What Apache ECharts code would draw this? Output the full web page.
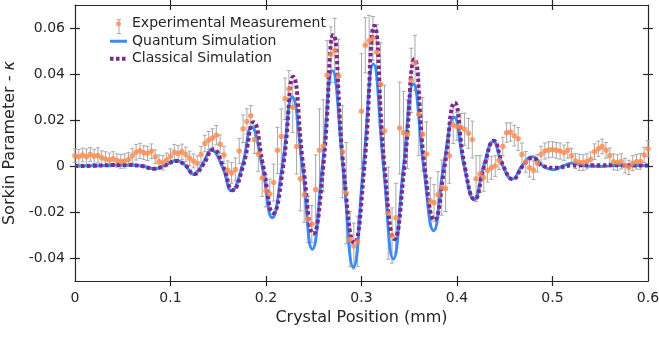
<!DOCTYPE html>
<html>
<head>
<meta charset="utf-8">
<script src="https://cdn.jsdelivr.net/npm/echarts@6.0.0/dist/echarts.min.js"></script>
<style>
  html, body { margin: 0; padding: 0; background: #fff; }
  #chart { width: 659px; height: 337px; }
</style>
</head>
<body>
<div id="chart"></div>
<script>
// experimental points (mm, kappa, half error bar)
const xExp = [
  0, 0.004, 0.008, 0.012, 0.016, 0.02, 0.024, 0.028, 0.032, 0.036,
  0.04, 0.044, 0.048, 0.052, 0.056, 0.06, 0.064, 0.068, 0.072, 0.076,
  0.08, 0.084, 0.088, 0.092, 0.096, 0.1, 0.104, 0.108, 0.112, 0.116,
  0.12, 0.124, 0.128, 0.132, 0.136, 0.14, 0.144, 0.148, 0.152, 0.156,
  0.16, 0.164, 0.168, 0.172, 0.176, 0.18, 0.184, 0.188, 0.192, 0.196,
  0.2, 0.204, 0.208, 0.212, 0.216, 0.22, 0.224, 0.228, 0.232, 0.236,
  0.24, 0.244, 0.248, 0.252, 0.256, 0.26, 0.264, 0.268, 0.272, 0.276,
  0.28, 0.284, 0.288, 0.292, 0.296, 0.3, 0.304, 0.308, 0.312, 0.316,
  0.32, 0.324, 0.328, 0.332, 0.336, 0.34, 0.344, 0.348, 0.352, 0.356,
  0.36, 0.364, 0.368, 0.372, 0.376, 0.38, 0.384, 0.388, 0.392, 0.396,
  0.4, 0.404, 0.408, 0.412, 0.416, 0.42, 0.424, 0.428, 0.432, 0.436,
  0.44, 0.444, 0.448, 0.452, 0.456, 0.46, 0.464, 0.468, 0.472, 0.476,
  0.48, 0.484, 0.488, 0.492, 0.496, 0.5, 0.504, 0.508, 0.512, 0.516,
  0.52, 0.524, 0.528, 0.532, 0.536, 0.54, 0.544, 0.548, 0.552, 0.556,
  0.56, 0.564, 0.568, 0.572, 0.576, 0.58, 0.584, 0.588, 0.592, 0.596,
  0.6
];
const yExp = [
  0.0045, 0.004, 0.0048, 0.004, 0.005, 0.0042, 0.0046, 0.0036, 0.003, 0.0026,
  0.0032, 0.0024, 0.002, 0.0022, 0.0028, 0.0045, 0.006, 0.0066, 0.0058, 0.0055,
  0.0064, 0.004, 0.0018, 0.0014, 0.0026, 0.0042, 0.006, 0.0054, 0.0062, 0.005,
  0.0034, 0.0022, 0.0012, 0.005, 0.0098, 0.0112, 0.0122, 0.0134, 0.0095, 0.0048,
  -0.0018, -0.003, -0.0015, 0.0065, 0.0162, 0.0194, 0.0218, 0.0115, 0.0052, -0.0052,
  -0.0108, -0.0122, -0.0072, 0.0068, 0.0128, 0.0292, 0.0335, 0.0255, 0.0085, -0.0055,
  -0.0125, -0.0232, -0.0252, -0.0102, 0.0068, 0.0088, 0.0395, 0.0485, 0.0502, 0.0392,
  0.0062, -0.0118, -0.0318, -0.0348, -0.0328, 0.0238, 0.0525, 0.0545, 0.0555, 0.0495,
  0.0355, 0.0152, -0.0205, -0.0302, -0.0225, 0.0165, 0.0145, 0.0138, 0.0372, 0.0448,
  0.0225, 0.0138, 0.0052, -0.0152, -0.016, -0.0125, -0.0094, -0.0098, 0.0045, 0.0178,
  0.0172, 0.0168, 0.016, 0.0142, 0.0115, -0.0055, -0.0035, -0.005, -0.002, -0.0008,
  0, 0.0025, 0.0085, 0.0145, 0.0148, 0.0132, 0.0118, 0.005, 0.0018, -0.0008,
  -0.0018, 0.0012, 0.005, 0.0065, 0.007, 0.0072, 0.0068, 0.0065, 0.0058, 0.0068,
  0.0045, 0.0022, 0.0016, 0.0015, 0.002, 0.0029, 0.0062, 0.0075, 0.0085, 0.0068,
  0.0045, 0.0018, 0.0015, 0.002, 0.0002, -0.0006, 0.0012, 0.0018, 0.002, 0.0048,
  0.0075
];
const errExp = [
  0.003, 0.0032, 0.003, 0.0034, 0.003, 0.0031, 0.0033, 0.003, 0.0032, 0.003,
  0.003, 0.0029, 0.003, 0.0031, 0.003, 0.0032, 0.0034, 0.0033, 0.003, 0.0031,
  0.0032, 0.003, 0.003, 0.0031, 0.003, 0.0032, 0.0034, 0.0035, 0.0033, 0.0032,
  0.0031, 0.003, 0.0032, 0.0035, 0.0036, 0.0038, 0.004, 0.0042, 0.004, 0.0038,
  0.004, 0.0045, 0.005, 0.0055, 0.006, 0.0055, 0.0045, 0.006, 0.0075, 0.008,
  0.007, 0.0065, 0.008, 0.01, 0.012, 0.009, 0.008, 0.011, 0.012, 0.014,
  0.012, 0.01, 0.008, 0.015, 0.018, 0.02, 0.015, 0.012, 0.014, 0.016,
  0.02, 0.022, 0.012, 0.01, 0.011, 0.025, 0.012, 0.011, 0.0095, 0.012,
  0.018, 0.02, 0.02, 0.012, 0.015, 0.02, 0.018, 0.015, 0.014, 0.012,
  0.018, 0.016, 0.014, 0.01, 0.008, 0.01, 0.012, 0.01, 0.012, 0.008,
  0.006, 0.006, 0.007, 0.0065, 0.008, 0.01, 0.008, 0.006, 0.005, 0.005,
  0.0045, 0.004, 0.004, 0.0042, 0.004, 0.0045, 0.005, 0.005, 0.0045, 0.004,
  0.004, 0.0038, 0.0036, 0.0035, 0.0035, 0.0034, 0.0034, 0.0035, 0.0033, 0.0034,
  0.0032, 0.0033, 0.0035, 0.0034, 0.0033, 0.0032, 0.0034, 0.0033, 0.0032, 0.0034,
  0.0033, 0.0035, 0.0034, 0.0033, 0.0032, 0.0031, 0.0033, 0.0032, 0.0034, 0.0033,
  0.0035
];

// simulation curves, read at their extrema and zero crossings
const xQuantum = [
  0, 0.02, 0.04, 0.055, 0.07, 0.083, 0.095, 0.106, 0.115, 0.124,
  0.133, 0.143, 0.154, 0.164, 0.175, 0.185, 0.196, 0.2065, 0.217, 0.2275,
  0.238, 0.2485, 0.259, 0.2695, 0.2805, 0.2915, 0.302, 0.3124, 0.323, 0.3333,
  0.344, 0.3543, 0.365, 0.3755, 0.386, 0.397, 0.4075, 0.418, 0.428, 0.438,
  0.448, 0.458, 0.468, 0.479, 0.49, 0.501, 0.511, 0.521, 0.535, 0.55,
  0.57, 0.6
];
const yQuantum = [
  0, 0.0001, 0.0004, 0.0004, 0, -0.0012, 0.0005, 0.0023, 0.0005, -0.0036,
  0.0005, 0.0068, 0, -0.0108, 0, 0.0168, 0, -0.0225, 0, 0.030,
  0, -0.0362, 0, 0.0414, 0, -0.0440, 0, 0.0443, 0, -0.0404,
  0, 0.0357, 0, -0.0281, 0, 0.0212, 0, -0.0146, 0, 0.0106,
  0, -0.0057, 0, 0.0040, 0, -0.0016, 0, 0.0012, 0, -0.0002,
  0.0003, 0.0002
];
const xClassical = [
  0, 0.02, 0.04, 0.055, 0.07, 0.083, 0.095, 0.106, 0.115, 0.125,
  0.134, 0.145, 0.155, 0.165, 0.176, 0.187, 0.197, 0.2075, 0.218, 0.2285,
  0.239, 0.2495, 0.26, 0.2705, 0.281, 0.2925, 0.303, 0.3135, 0.324, 0.3345,
  0.345, 0.3555, 0.366, 0.3765, 0.387, 0.3975, 0.408, 0.4185, 0.4285, 0.4385,
  0.4485, 0.4585, 0.469, 0.479, 0.49, 0.503, 0.52, 0.55, 0.6
];
const yClassical = [
  0, 0.0001, 0.0004, 0.0004, 0, -0.0012, 0.0005, 0.0022, 0.0005, -0.0035,
  0.0005, 0.0072, 0, -0.0105, 0, 0.019, 0, -0.0205, 0, 0.0388,
  0, -0.0295, 0, 0.0570, 0, -0.0335, 0, 0.0610, 0, -0.0318,
  0, 0.0465, 0, -0.0235, 0, 0.0275, 0, -0.0145, 0, 0.011,
  0, -0.0057, 0, 0.0035, 0, -0.0008, 0.0002, 0.0003, 0.0002
];

const xLabelTicks = [0.1, 0.2, 0.3, 0.4, 0.5];
const yTickValues = [-0.04, -0.02, 0, 0.02, 0.04, 0.06];

const ink = '#262626';
const font = 'DejaVu Sans';
const orange = '#fd8a4e';
const blue = '#3d8cf4';
const purple = '#7b2a8c';
const barGray = '#a8a8a8';

const errData = xExp.map((x, i) => [x, yExp[i], errExp[i]]);
const expData = xExp.map((x, i) => [x, yExp[i]]);
const quantumData = xQuantum.map((x, i) => [x, yQuantum[i]]);
const classicalData = xClassical.map((x, i) => [x, yClassical[i]]);

function xAx(position, inside, main) {
  return {
    type: 'value', min: 0, max: 0.6, interval: 0.1, position,
    axisLine: { show: main, onZero: false, lineStyle: { color: ink, width: 1.2 } },
    axisTick: { show: true, inside, length: 5, customValues: xLabelTicks, lineStyle: { color: ink, width: 1.2 } },
    axisLabel: { show: main && position === 'bottom', color: ink, fontSize: 14, fontFamily: font, margin: 10 },
    splitLine: { show: false }
  };
}
function yAx(position, inside, main) {
  return {
    type: 'value', min: -0.05, max: 0.07, interval: 0.01, position,
    axisLine: { show: main, onZero: false, lineStyle: { color: ink, width: 1.2 } },
    axisTick: { show: true, inside, length: 5, customValues: yTickValues, lineStyle: { color: ink, width: 1.2 } },
    axisLabel: { show: main && position === 'left', customValues: yTickValues, color: ink, fontSize: 14, fontFamily: font, margin: 10 },
    splitLine: { show: false }
  };
}

const xAxes = [xAx('bottom', false, true), xAx('bottom', true, false), xAx('top', false, true), xAx('top', true, false)];
Object.assign(xAxes[0], {
  name: 'Crystal Position (mm)', nameLocation: 'middle', nameGap: 28,
  nameTextStyle: { color: ink, fontSize: 16, fontFamily: font }
});
const yAxes = [yAx('left', false, true), yAx('left', true, false), yAx('right', false, true), yAx('right', true, false)];
Object.assign(yAxes[0], {
  name: 'Sorkin Parameter - {k|κ}', nameLocation: 'middle', nameGap: 51, nameRotate: 90,
  nameTextStyle: {
    color: ink, fontSize: 16, fontFamily: font,
    rich: { k: { fontStyle: 'italic', color: ink, fontSize: 16, fontFamily: font } }
  }
});

const chart = echarts.init(document.getElementById('chart'));
chart.setOption({
  animation: false,
  backgroundColor: '#fff',
  grid: { left: 75, right: 11, top: 5, bottom: 56, containLabel: false, outerBoundsMode: 'none' },
  legend: {
    orient: 'vertical', left: 108, top: 15, padding: 0, itemGap: 0,
    itemWidth: 17, itemHeight: 5,
    data: [
      { name: 'Experimental Measurement' },
      { name: 'Quantum Simulation', itemStyle: { opacity: 0 }, lineStyle: { width: 3 } },
      { name: 'Classical Simulation', itemStyle: { opacity: 0 }, lineStyle: { width: 4, type: [3.5, 2.5] } }
    ],
    textStyle: { color: ink, fontSize: 14, fontFamily: font, lineHeight: 17.5 }
  },
  graphic: [{
    type: 'group', left: 114.5, top: 17, z: 0,
    children: [
      { type: 'line', shape: { x1: 2, y1: 0, x2: 2, y2: 14 }, style: { stroke: barGray, lineWidth: 1 } },
      { type: 'line', shape: { x1: 0, y1: 0, x2: 4, y2: 0 }, style: { stroke: barGray, lineWidth: 1 } },
      { type: 'line', shape: { x1: 0, y1: 14, x2: 4, y2: 14 }, style: { stroke: barGray, lineWidth: 1 } }
    ]
  }],
  xAxis: xAxes,
  yAxis: yAxes,
  series: [
    {
      name: 'error', type: 'custom', silent: true, z: 1,
      data: errData,
      encode: { x: 0, y: 1 },
      renderItem: (params, api) => {
        const x = api.value(0), y = api.value(1), e = api.value(2);
        const top = api.coord([x, y + e]);
        const bot = api.coord([x, y - e]);
        const st = { stroke: barGray, lineWidth: 1 };
        return {
          type: 'group',
          children: [
            { type: 'line', shape: { x1: top[0], y1: top[1], x2: bot[0], y2: bot[1] }, style: st },
            { type: 'line', shape: { x1: top[0] - 2, y1: top[1], x2: top[0] + 2, y2: top[1] }, style: st },
            { type: 'line', shape: { x1: bot[0] - 2, y1: bot[1], x2: bot[0] + 2, y2: bot[1] }, style: st }
          ]
        };
      }
    },
    {
      name: 'Quantum Simulation', type: 'line', z: 2,
      data: quantumData, smooth: 0.5, symbol: 'none', showSymbol: false,
      color: blue,
      lineStyle: { color: blue, width: 3 }
    },
    {
      name: 'Classical Simulation', type: 'line', z: 3,
      data: classicalData, smooth: 0.5, symbol: 'none', showSymbol: false,
      color: purple,
      lineStyle: { color: purple, width: 4, type: [3.5, 2.5], cap: 'butt' }
    },
    {
      name: 'Experimental Measurement', type: 'scatter', z: 4,
      data: expData, symbolSize: 5.5,
      itemStyle: { color: orange }
    }
  ]
});
</script>
</body>
</html>
